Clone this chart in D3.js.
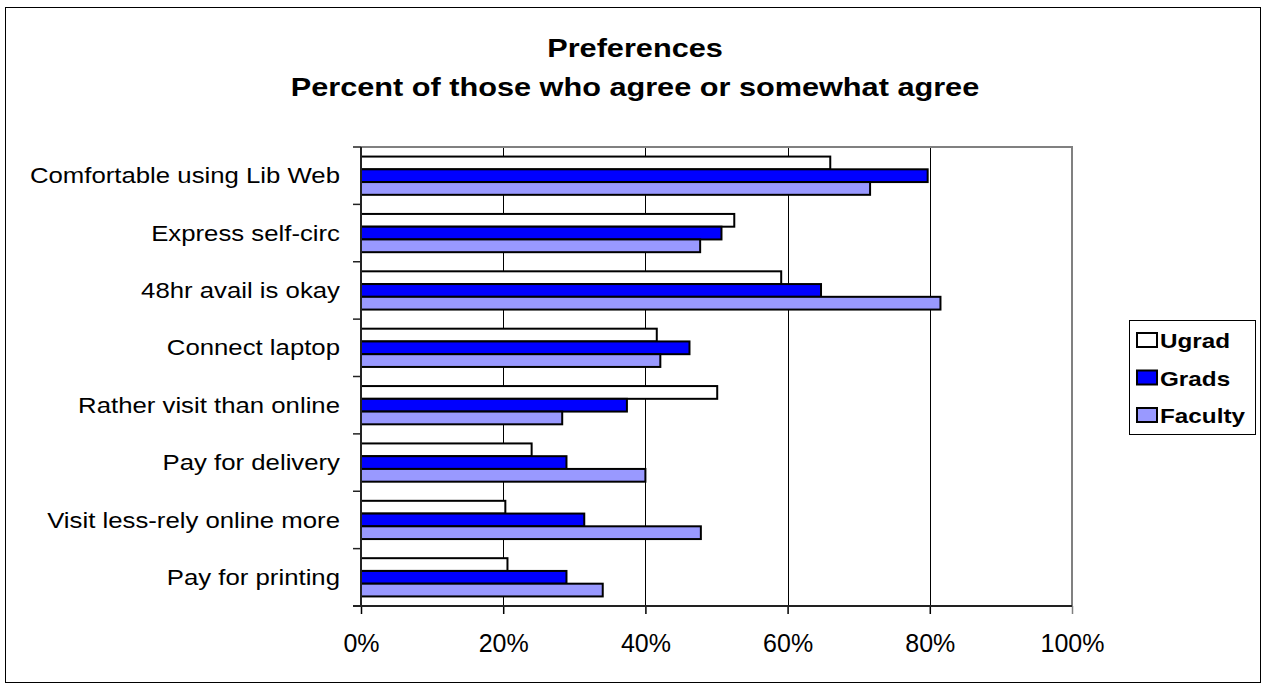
<!DOCTYPE html>
<html>
<head>
<meta charset="utf-8">
<script src="https://cdn.jsdelivr.net/npm/d3@7"></script>
<style>
  html, body { margin: 0; padding: 0; background: #fff; }
  svg { display: block; font-family: "Liberation Sans", Arial, sans-serif; }
</style>
</head>
<body>
<svg id="chart" width="1262" height="684"></svg>
<script>
// Survey categories, top to bottom
const categories = [
  "Comfortable using Lib Web",
  "Express self-circ",
  "48hr avail is okay",
  "Connect laptop",
  "Rather visit than online",
  "Pay for delivery",
  "Visit less-rely online more",
  "Pay for printing"
];

// Percent agreeing, per group
const seriesNames = ["Ugrad", "Grads", "Faculty"];
const ugrad   = [66.0, 52.5, 59.1, 41.6, 50.1, 24.0, 20.3, 20.6];
const grads   = [79.7, 50.7, 64.7, 46.2, 37.4, 28.9, 31.4, 28.9];
const faculty = [71.6, 47.7, 81.5, 42.1, 28.3, 40.0, 47.8, 34.0];
const seriesColors = ["#FFFFFF", "#0000FF", "#9999FF"];

const xTicks = [0, 20, 40, 60, 80, 100];
const titleLines = ["Preferences", "Percent of those who agree or somewhat agree"];

const seriesValues = [ugrad, grads, faculty];

const svg = d3.select("#chart");

// outer chart frame
svg.append("rect")
  .attr("x", 5.5).attr("y", 7.5)
  .attr("width", 1255).attr("height", 675)
  .attr("fill", "#fff").attr("stroke", "#000").attr("stroke-width", 1);

const plot = { left: 361, right: 1072, top: 147, bottom: 606 };

const x = d3.scaleLinear().domain([0, 100]).range([plot.left, plot.right]);
const y = d3.scaleBand().domain(categories).range([plot.top, plot.bottom]).padding(0);
const step = y.bandwidth();
const inner = d3.scaleBand().domain(seriesNames).range([step / 6, step * 5 / 6]).padding(0);

// title
const title = svg.append("g").attr("font-weight", "bold").attr("font-size", 26).attr("fill", "#000");
title.append("text")
  .attr("text-anchor", "middle")
  .attr("transform", "translate(635,57) scale(1.18,1)")
  .text(titleLines[0]);
title.append("text")
  .attr("text-anchor", "middle")
  .attr("transform", "translate(635,96) scale(1.18,1)")
  .text(titleLines[1]);

// vertical gridlines
svg.append("g")
  .selectAll("line")
  .data(xTicks.filter(t => t > 0 && t < 100))
  .join("line")
  .attr("x1", d => Math.round(x(d)) + 0.5).attr("x2", d => Math.round(x(d)) + 0.5)
  .attr("y1", plot.top).attr("y2", plot.bottom)
  .attr("stroke", "#000").attr("stroke-width", 1);

// plot area top and right edges
svg.append("path")
  .attr("d", `M${plot.left},${plot.top} H${plot.right} V${plot.bottom}`)
  .attr("fill", "none").attr("stroke", "#808080").attr("stroke-width", 2);

// bars
const groups = svg.append("g")
  .selectAll("g")
  .data(categories)
  .join("g")
  .attr("transform", d => `translate(0,${y(d)})`);

groups.selectAll("rect")
  .data((d, i) => seriesNames.map((s, k) => ({ s, k, v: seriesValues[k][i] })))
  .join("rect")
  .attr("x", x(0))
  .attr("y", d => inner(d.s))
  .attr("width", d => x(d.v) - x(0))
  .attr("height", inner.bandwidth())
  .attr("fill", d => seriesColors[d.k])
  .attr("stroke", "#000")
  .attr("stroke-width", 2);

// x axis
const xAxis = svg.append("g")
  .attr("transform", `translate(0,${plot.bottom})`)
  .call(d3.axisBottom(x).tickValues(xTicks).tickFormat(d => d + "%").tickSize(8).tickPadding(20));
xAxis.select(".domain").remove();
xAxis.selectAll(".tick line").attr("stroke", (d) => d === 100 ? "#808080" : "#000").attr("stroke-width", 1.5);
xAxis.selectAll(".tick text").attr("font-size", 25).attr("fill", "#000")
  .attr("font-family", "'Liberation Sans', Arial, sans-serif");
svg.append("line")
  .attr("x1", plot.left - 8).attr("x2", plot.right)
  .attr("y1", plot.bottom).attr("y2", plot.bottom)
  .attr("stroke", "#222").attr("stroke-width", 2);

// y axis line and ticks at category boundaries
const bounds = categories.map(c => y(c)).concat([y.range()[1]]);
svg.append("line")
  .attr("x1", plot.left).attr("x2", plot.left)
  .attr("y1", plot.top).attr("y2", plot.bottom)
  .attr("stroke", "#222").attr("stroke-width", 2);
svg.append("g")
  .selectAll("line")
  .data(bounds)
  .join("line")
  .attr("x1", plot.left - 8).attr("x2", plot.left)
  .attr("y1", d => d).attr("y2", d => d)
  .attr("stroke", "#222").attr("stroke-width", 1.5);

// category labels
svg.append("g")
  .selectAll("text")
  .data(categories)
  .join("text")
  .attr("text-anchor", "end")
  .attr("font-size", 23)
  .attr("fill", "#000")
  .attr("transform", d => `translate(340,${y(d) + step / 2}) scale(1.12,1)`)
  .attr("dy", "0.33em")
  .text(d => d);

// legend
const legend = svg.append("g");
legend.append("rect")
  .attr("x", 1129.5).attr("y", 320.5).attr("width", 126).attr("height", 114)
  .attr("fill", "#fff").attr("stroke", "#000").attr("stroke-width", 1);
const items = legend.selectAll("g.item")
  .data(seriesNames)
  .join("g")
  .attr("class", "item")
  .attr("transform", (d, i) => `translate(0,${348 + i * 37.5})`);
items.append("rect")
  .attr("x", 1137).attr("y", -15).attr("width", 20).attr("height", 14)
  .attr("fill", (d, i) => seriesColors[i]).attr("stroke", "#000").attr("stroke-width", 2);
items.append("text")
  .attr("transform", "translate(1160,0) scale(1.156,1)")
  .attr("font-size", 21).attr("font-weight", "bold").attr("fill", "#000")
  .text(d => d);
</script>
</body>
</html>
